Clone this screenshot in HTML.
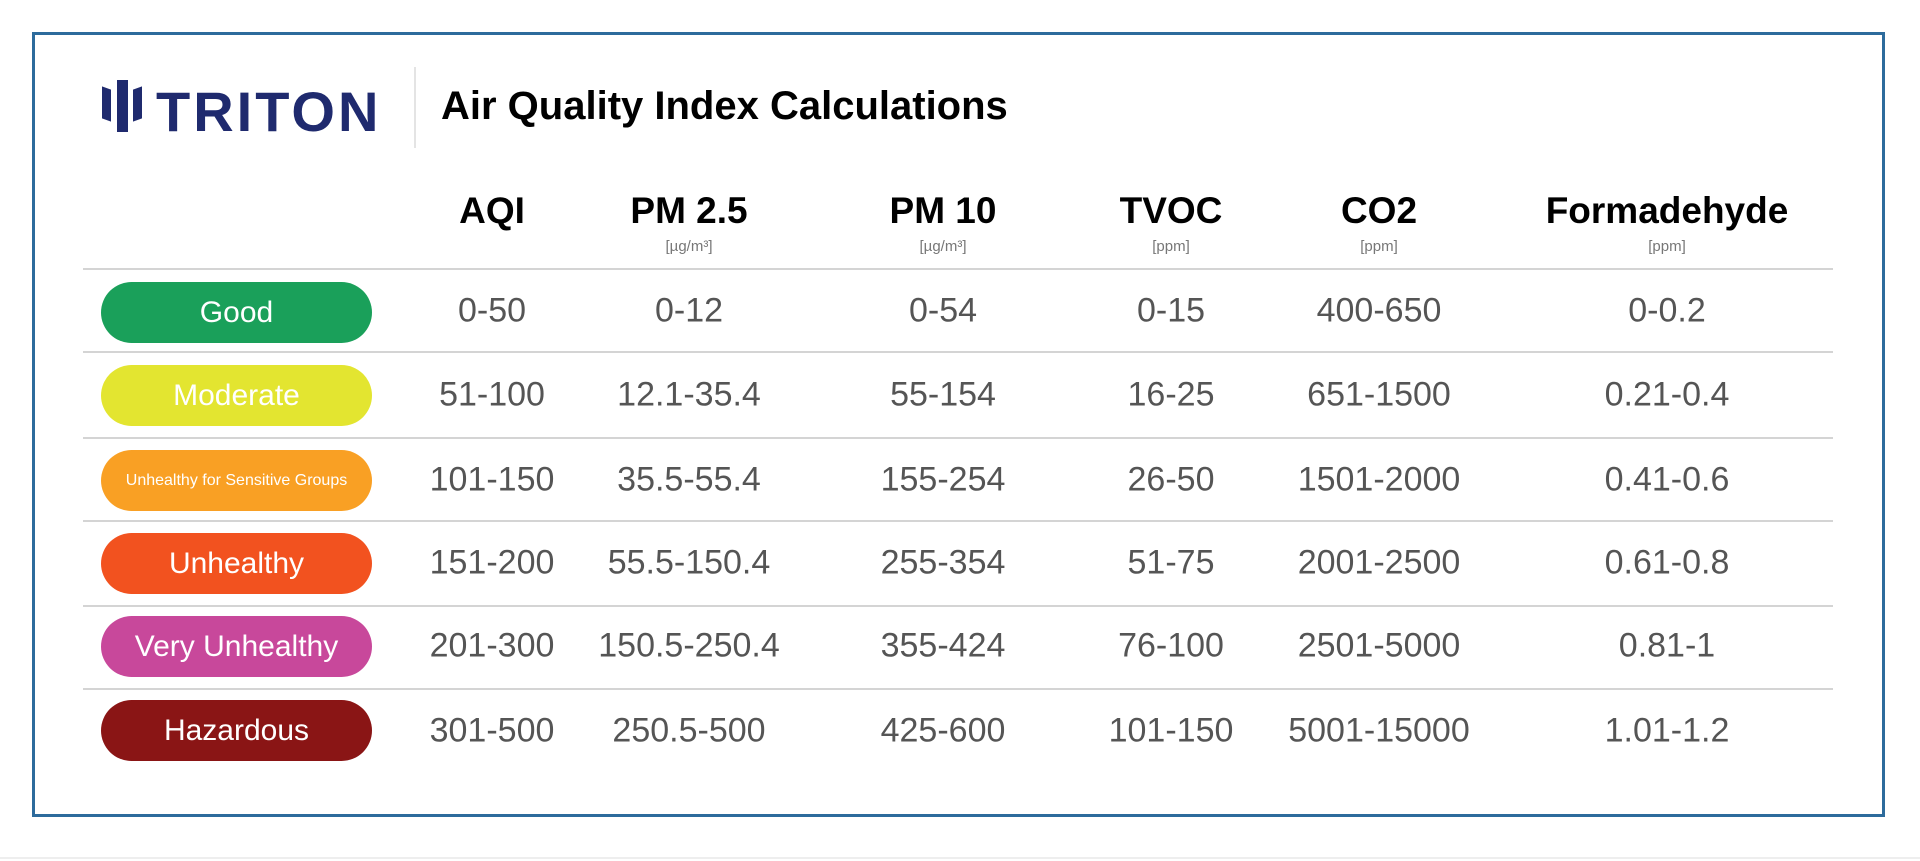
<!DOCTYPE html>
<html><head><meta charset="utf-8"><style>
body{margin:0;width:1920px;height:861px;background:#fff;position:relative;overflow:hidden;font-family:"Liberation Sans",sans-serif;}
.frame{position:absolute;left:32px;top:32px;width:1847px;height:779px;border:3px solid #2d6b9c;box-sizing:content-box;}
.bottom{position:absolute;left:0;right:0;top:857px;height:2px;background:#eee;}
.abs{position:absolute;}
.bar{position:absolute;background:#1f2a6e;}
.line{position:absolute;left:83px;width:1750px;height:2px;background:#d4d4d4;}
.h{position:absolute;top:190px;font-weight:bold;font-size:37px;color:#000;transform:translateX(-50%);white-space:nowrap;}
.s{position:absolute;top:238px;font-size:15px;color:#777;transform:translateX(-50%);white-space:nowrap;}
.pill{position:absolute;left:101px;width:271px;height:61px;border-radius:31px;color:#fff;font-size:30px;display:flex;align-items:center;justify-content:center;white-space:nowrap;}
.v{position:absolute;font-size:34px;color:#555;transform:translate(-50%,-50%);white-space:nowrap;}
</style></head><body>
<div class="frame"></div>
<div class="bottom"></div>
<!-- logo -->
<div class="bar" style="left:102px;top:88px;width:9px;height:32px;transform:skewY(20deg)"></div>
<div class="bar" style="left:117px;top:80px;width:11px;height:52px;"></div>
<div class="bar" style="left:133px;top:88px;width:9px;height:32px;transform:skewY(-20deg)"></div>
<div class="abs" style="left:156px;top:79px;font-size:56px;font-weight:bold;color:#1f2a6e;letter-spacing:3px;">TRITON</div>
<div class="abs" style="left:414px;top:67px;width:2px;height:81px;background:#e4e4e4;"></div>
<div class="abs" style="left:441px;top:84px;font-size:40px;font-weight:bold;color:#000;">Air Quality Index Calculations</div>
<!-- headers -->
<div class="h" style="left:492px">AQI</div>
<div class="h" style="left:689px">PM 2.5</div>
<div class="h" style="left:943px">PM 10</div>
<div class="h" style="left:1171px">TVOC</div>
<div class="h" style="left:1379px">CO2</div>
<div class="h" style="left:1667px">Formadehyde</div>
<div class="s" style="left:689px">[µg/m³]</div>
<div class="s" style="left:943px">[µg/m³]</div>
<div class="s" style="left:1171px">[ppm]</div>
<div class="s" style="left:1379px">[ppm]</div>
<div class="s" style="left:1667px">[ppm]</div>
<div class="line" style="top:268px"></div>
<div class="line" style="top:351px"></div>
<div class="line" style="top:437px"></div>
<div class="line" style="top:520px"></div>
<div class="line" style="top:605px"></div>
<div class="line" style="top:688px"></div>
<div class="pill" style="top:282px;background:#1aa05a">Good</div>
<div class="pill" style="top:365px;background:#e3e530">Moderate</div>
<div class="pill" style="top:450px;background:#f9a024;font-size:16px">Unhealthy for Sensitive Groups</div>
<div class="pill" style="top:533px;background:#f2521f">Unhealthy</div>
<div class="pill" style="top:616px;background:#c8489b">Very Unhealthy</div>
<div class="pill" style="top:700px;background:#8a1515">Hazardous</div>
<div class="v" style="left:492px;top:311px">0-50</div><div class="v" style="left:689px;top:311px">0-12</div><div class="v" style="left:943px;top:311px">0-54</div><div class="v" style="left:1171px;top:311px">0-15</div><div class="v" style="left:1379px;top:311px">400-650</div><div class="v" style="left:1667px;top:311px">0-0.2</div>
<div class="v" style="left:492px;top:395px">51-100</div><div class="v" style="left:689px;top:395px">12.1-35.4</div><div class="v" style="left:943px;top:395px">55-154</div><div class="v" style="left:1171px;top:395px">16-25</div><div class="v" style="left:1379px;top:395px">651-1500</div><div class="v" style="left:1667px;top:395px">0.21-0.4</div>
<div class="v" style="left:492px;top:480px">101-150</div><div class="v" style="left:689px;top:480px">35.5-55.4</div><div class="v" style="left:943px;top:480px">155-254</div><div class="v" style="left:1171px;top:480px">26-50</div><div class="v" style="left:1379px;top:480px">1501-2000</div><div class="v" style="left:1667px;top:480px">0.41-0.6</div>
<div class="v" style="left:492px;top:563px">151-200</div><div class="v" style="left:689px;top:563px">55.5-150.4</div><div class="v" style="left:943px;top:563px">255-354</div><div class="v" style="left:1171px;top:563px">51-75</div><div class="v" style="left:1379px;top:563px">2001-2500</div><div class="v" style="left:1667px;top:563px">0.61-0.8</div>
<div class="v" style="left:492px;top:646px">201-300</div><div class="v" style="left:689px;top:646px">150.5-250.4</div><div class="v" style="left:943px;top:646px">355-424</div><div class="v" style="left:1171px;top:646px">76-100</div><div class="v" style="left:1379px;top:646px">2501-5000</div><div class="v" style="left:1667px;top:646px">0.81-1</div>
<div class="v" style="left:492px;top:731px">301-500</div><div class="v" style="left:689px;top:731px">250.5-500</div><div class="v" style="left:943px;top:731px">425-600</div><div class="v" style="left:1171px;top:731px">101-150</div><div class="v" style="left:1379px;top:731px">5001-15000</div><div class="v" style="left:1667px;top:731px">1.01-1.2</div>
</body></html>
